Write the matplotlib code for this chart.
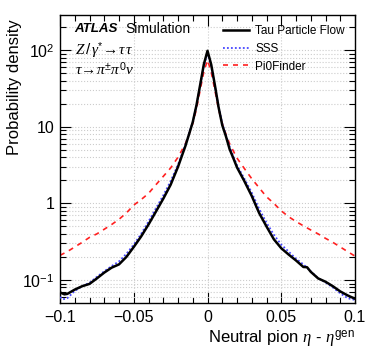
import matplotlib
matplotlib.use("Agg")
import matplotlib.pyplot as plt
from matplotlib.ticker import FixedLocator, FixedFormatter, LogLocator, NullFormatter, MultipleLocator

plt.rcParams['font.family'] = ['Liberation Sans', 'DejaVu Sans']
plt.rcParams['mathtext.fontset'] = 'custom'
plt.rcParams['mathtext.rm'] = 'Liberation Sans'
plt.rcParams['mathtext.sf'] = 'Liberation Sans'
plt.rcParams['mathtext.it'] = 'Liberation Serif:italic'
plt.rcParams['mathtext.bf'] = 'Liberation Sans:bold'

# ---- data ----
x_tpf = [-0.1, -0.097, -0.095, -0.09, -0.085, -0.08, -0.075, -0.07, -0.065, -0.06, -0.055,
         -0.05, -0.045, -0.04, -0.035, -0.03, -0.025, -0.02, -0.0175, -0.015, -0.0125,
         -0.01, -0.0075, -0.005, -0.0025, 0.0, 0.0025, 0.005, 0.0075, 0.01, 0.0125, 0.015,
         0.0175, 0.02, 0.025, 0.03, 0.035, 0.04, 0.045, 0.05, 0.055, 0.06, 0.065, 0.0675,
         0.07, 0.075, 0.08, 0.085, 0.09, 0.095, 0.1]
y_tpf = [0.069, 0.065, 0.066, 0.075, 0.083, 0.089, 0.105, 0.125, 0.145, 0.16, 0.20,
         0.27, 0.37, 0.53, 0.78, 1.15, 1.75, 3.0, 4.1, 5.6, 8.0,
         11.5, 19.0, 35.0, 65.0, 98.0, 65.0, 35.0, 18.0, 10.5, 7.5, 5.1,
         3.9, 2.95, 1.95, 1.25, 0.75, 0.50, 0.34, 0.26, 0.215, 0.18, 0.148, 0.147,
         0.128, 0.105, 0.095, 0.083, 0.071, 0.063, 0.057]

x_sss = [-0.1, -0.098, -0.095, -0.09, -0.085, -0.08, -0.075, -0.07, -0.065, -0.06, -0.055,
         -0.05, -0.045, -0.04, -0.035, -0.03, -0.025, -0.02, -0.0175, -0.015, -0.0125,
         -0.01, -0.0075, -0.005, -0.0025, 0.0, 0.0025, 0.005, 0.0075, 0.01, 0.0125, 0.015,
         0.0175, 0.02, 0.025, 0.03, 0.035, 0.04, 0.045, 0.05, 0.055, 0.06, 0.065, 0.07,
         0.075, 0.08, 0.085, 0.09, 0.095, 0.1]
y_sss = [0.060, 0.056, 0.058, 0.072, 0.083, 0.092, 0.11, 0.13, 0.152, 0.175, 0.22,
         0.29, 0.40, 0.58, 0.86, 1.27, 1.95, 3.2, 4.3, 5.8, 8.2,
         11.5, 19.0, 34.0, 62.0, 92.0, 62.0, 34.0, 18.5, 11.0, 7.8, 5.5,
         4.1, 3.15, 2.1, 1.38, 0.85, 0.56, 0.39, 0.29, 0.235, 0.19, 0.16, 0.13,
         0.106, 0.093, 0.080, 0.067, 0.058, 0.055]

x_pi0 = [-0.1, -0.095, -0.09, -0.085, -0.08, -0.075, -0.07, -0.065, -0.06, -0.055,
         -0.05, -0.045, -0.04, -0.035, -0.03, -0.025, -0.02, -0.015, -0.0125,
         -0.01, -0.0075, -0.005, -0.0025, 0.0, 0.0025, 0.005, 0.0075, 0.01, 0.0125, 0.015,
         0.02, 0.025, 0.03, 0.035, 0.04, 0.045, 0.05, 0.055, 0.06, 0.065, 0.07,
         0.075, 0.08, 0.085, 0.09, 0.095, 0.1]
y_pi0 = [0.21, 0.235, 0.27, 0.31, 0.36, 0.40, 0.46, 0.53, 0.62, 0.75,
         0.95, 1.12, 1.35, 1.75, 2.25, 2.9, 4.0, 6.0, 8.0,
         11.0, 17.0, 30.0, 52.0, 74.0, 52.0, 30.0, 17.0, 11.0, 8.0, 6.0,
         3.9, 2.85, 2.1, 1.6, 1.22, 1.0, 0.8, 0.67, 0.58, 0.51, 0.45,
         0.40, 0.35, 0.31, 0.27, 0.235, 0.205]

series_labels = ["Tau Particle Flow", "SSS", "Pi0Finder"]
x_ticks = [-0.1, -0.05, 0, 0.05, 0.1]
x_tick_labels = ["\u22120.1", "\u22120.05", "0", "0.05", "0.1"]
y_ticks = [0.1, 1, 10, 100]
y_tick_labels = [r"$10^{-1}$", "1", "10", r"$10^{2}$"]

# ---- figure ----
fig = plt.figure(figsize=(3.74, 3.61), dpi=100)
ax = fig.add_axes([60/374, 1-302.7/361, 295/374, 288/361])

ax.plot(x_tpf, y_tpf, color='black', lw=1.8, ls='-', label=series_labels[0], zorder=4)
ax.plot(x_sss, y_sss, color='#4646ff', lw=1.3, ls=(0, (1, 1.2)), label=series_labels[1], zorder=3)
ax.plot(x_pi0, y_pi0, color='#ff2020', lw=1.2, ls=(0, (3, 3)), label=series_labels[2], zorder=2)

ax.set_yscale('log')
ax.set_xlim(-0.1, 0.1)
ax.set_ylim(0.0506, 290)

ax.xaxis.set_major_locator(FixedLocator(x_ticks))
ax.xaxis.set_major_formatter(FixedFormatter(x_tick_labels))
ax.xaxis.set_minor_locator(MultipleLocator(0.01))
ax.yaxis.set_major_locator(FixedLocator(y_ticks))
ax.yaxis.set_major_formatter(FixedFormatter(y_tick_labels))
ax.yaxis.set_minor_locator(LogLocator(base=10, subs=range(2, 10)))
ax.yaxis.set_minor_formatter(NullFormatter())

ax.tick_params(which='both', direction='in', top=True, right=True, width=0.8)
ax.tick_params(which='major', length=8, labelsize=11.5, pad=4)
ax.tick_params(which='minor', length=4)
ax.tick_params(axis='x', which='major', pad=5)

ax.grid(True, which='major', axis='x', color='#cccccc', ls=':', lw=0.8)
ax.grid(True, which='both', axis='y', color='#cccccc', ls=':', lw=0.8)
ax.set_axisbelow(True)
for s in ax.spines.values():
    s.set_linewidth(1.0)

ax.set_ylabel("Probability density", fontsize=12, loc='top')
ax.yaxis.set_label_coords(-0.13, 0.985)
ax.set_xlabel(r"Neutral pion $\eta$ - $\eta^{\mathsf{gen}}$", fontsize=12, loc='right', labelpad=3)

ax.text(0.05, 0.950, "ATLAS", transform=ax.transAxes, fontsize=9.6, fontweight='bold',
        fontstyle='italic', va='center', ha='left')
ax.text(0.222, 0.950, "Simulation", transform=ax.transAxes, fontsize=10, va='center', ha='left')
ax.text(0.05, 0.877, r"$Z\,/\,\gamma^{*}\!\rightarrow\!\tau\,\tau$", transform=ax.transAxes,
        fontsize=11, va='center', ha='left')
ax.text(0.05, 0.812, r"$\tau\!\rightarrow\!\pi^{\pm}\pi^{0}\nu$", transform=ax.transAxes,
        fontsize=11, va='center', ha='left')

leg = ax.legend(loc='upper right', bbox_to_anchor=(1.0, 1.0), frameon=False, fontsize=8.5,
                handlelength=2.2, handletextpad=0.5, labelspacing=0.5, borderaxespad=0.45)

fig.savefig("out.png", dpi=100)
